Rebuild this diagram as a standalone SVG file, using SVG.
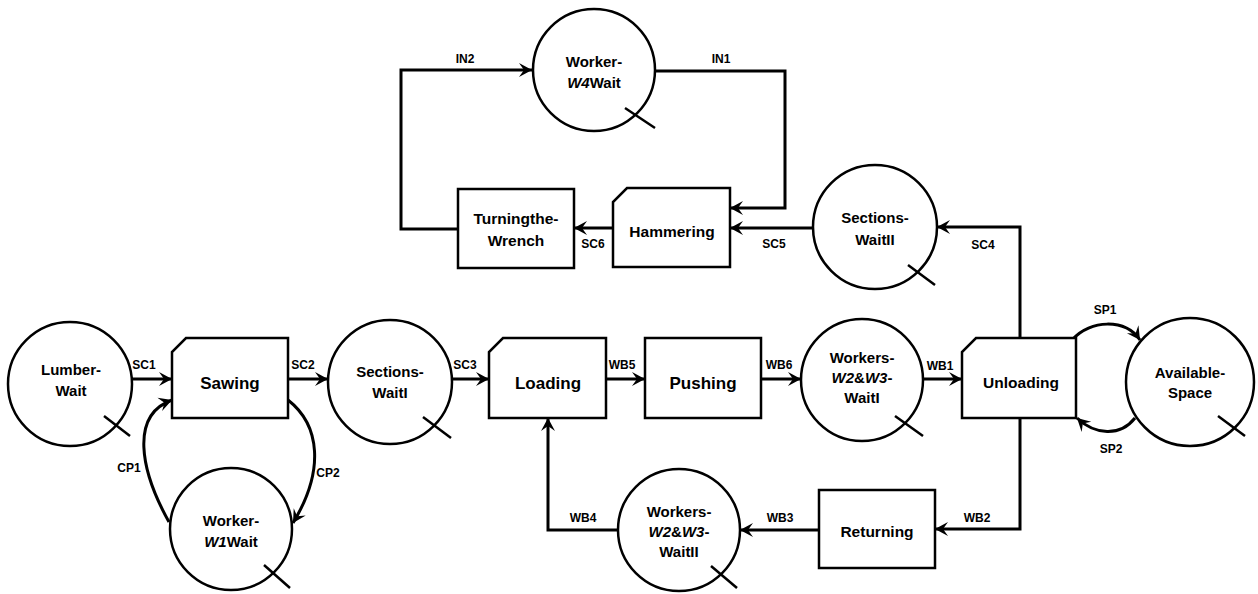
<svg xmlns="http://www.w3.org/2000/svg" width="1258" height="594" viewBox="0 0 1258 594">
<style>
.shape{fill:#fff;stroke:#000;stroke-width:2.5}
.tick{stroke:#000;stroke-width:2.5;fill:none}
.conn{fill:none;stroke:#000;stroke-width:3}
.arr{marker-end:url(#ah)}
text{font-family:"Liberation Sans",Arial,sans-serif;font-weight:bold;fill:#000;text-anchor:middle}
.nl{font-size:15px}
.bl{font-size:17px}
.bm{font-size:15.5px}
.el{font-size:12px}
.it{font-style:italic}
</style>
<defs>
<marker id="ah" markerUnits="userSpaceOnUse" markerWidth="16" markerHeight="16" refX="13" refY="8" orient="auto">
<path d="M0,1 L13,8 L0,15 L5,8 z" fill="#000"/>
</marker>
</defs>
<rect width="1258" height="594" fill="#fff"/>

<g id="connectors">
<path class="conn arr" d="M131,379 L172,379"/>
<path class="conn arr" d="M288,379 L328,379"/>
<path class="conn arr" d="M452,379 L489,379"/>
<path class="conn arr" d="M606,379 L645,379"/>
<path class="conn arr" d="M761,379 L801,379"/>
<path class="conn arr" d="M923,379 L962,379"/>
<path class="conn arr" d="M169,522 C140,470 130,415 172,400"/>
<path class="conn arr" d="M288,400 C320,425 325,470 293,523"/>
<path class="conn arr" d="M1073,339 C1090,320 1125,318 1140,340"/>
<path class="conn arr" d="M1135,418 C1120,437 1095,435 1077,418"/>
<path class="conn arr" d="M1020,338 L1020,227 L937,227"/>
<path class="conn arr" d="M813,228 L730,228"/>
<path class="conn arr" d="M613,228 L574,228"/>
<path class="conn arr" d="M458,229 L401,229 L401,70 L532,70"/>
<path class="conn arr" d="M655,71 L785,71 L785,208 L730,208"/>
<path class="conn arr" d="M1020,418 L1020,529 L935,529"/>
<path class="conn arr" d="M819,530 L740,530"/>
<path class="conn arr" d="M618,530 L548,530 L548,418"/>
<text class="el" x="144" y="369">SC1</text>
<text class="el" x="303" y="369">SC2</text>
<text class="el" x="465" y="369">SC3</text>
<text class="el" x="622" y="369">WB5</text>
<text class="el" x="779" y="369">WB6</text>
<text class="el" x="940" y="370">WB1</text>
<text class="el" x="1105" y="314">SP1</text>
<text class="el" x="1111" y="453">SP2</text>
<text class="el" x="983" y="249">SC4</text>
<text class="el" x="774" y="248">SC5</text>
<text class="el" x="593" y="248">SC6</text>
<text class="el" x="465" y="63">IN2</text>
<text class="el" x="721" y="63">IN1</text>
<text class="el" x="977" y="522">WB2</text>
<text class="el" x="780" y="522">WB3</text>
<text class="el" x="583" y="522">WB4</text>
<text class="el" x="129" y="472">CP1</text>
<text class="el" x="328" y="477">CP2</text>
</g>

<g id="lumber-wait">
<circle class="shape" cx="70" cy="384" r="62"/>
<line class="tick" x1="104" y1="416" x2="130" y2="436"/>
<text class="nl" x="71" y="375">Lumber-</text>
<text class="nl" x="71" y="396">Wait</text>
</g>

<g id="sawing">
<path class="shape" d="M186,338 L288,338 L288,418 L172,418 L172,352 z"/>
<text class="bl" x="230" y="389">Sawing</text>
</g>

<g id="worker-w1-wait">
<circle class="shape" cx="231" cy="529" r="61"/>
<line class="tick" x1="264" y1="565" x2="290" y2="588"/>
<text class="nl" x="231" y="526">Worker-</text>
<text class="nl" x="231" y="547"><tspan class="it">W1</tspan>Wait</text>
</g>

<g id="sections-wait1">
<circle class="shape" cx="390" cy="382" r="62"/>
<line class="tick" x1="423" y1="417" x2="451" y2="438"/>
<text class="nl" x="390" y="377">Sections-</text>
<text class="nl" x="390" y="398">WaitI</text>
</g>

<g id="loading">
<path class="shape" d="M503,338 L606,338 L606,418 L489,418 L489,352 z"/>
<text class="bl" x="548" y="389">Loading</text>
</g>

<g id="pushing">
<rect class="shape" x="645" y="338" width="116" height="80"/>
<text class="bl" x="703" y="389">Pushing</text>
</g>

<g id="workers-wait1">
<circle class="shape" cx="862" cy="380" r="61"/>
<line class="tick" x1="895" y1="416" x2="923" y2="436"/>
<text class="nl" x="862" y="363">Workers-</text>
<text class="nl" x="862" y="383"><tspan class="it">W2</tspan>&amp;<tspan class="it">W3</tspan>-</text>
<text class="nl" x="862" y="403">WaitI</text>
</g>

<g id="unloading">
<path class="shape" d="M976,338 L1076,338 L1076,418 L962,418 L962,352 z"/>
<text class="bm" x="1021" y="388">Unloading</text>
</g>

<g id="available-space">
<circle class="shape" cx="1190" cy="382" r="64"/>
<line class="tick" x1="1218" y1="416" x2="1245" y2="436"/>
<text class="nl" x="1190" y="378">Available-</text>
<text class="nl" x="1190" y="398">Space</text>
</g>

<g id="sections-wait2">
<circle class="shape" cx="875" cy="227" r="62"/>
<line class="tick" x1="908" y1="265" x2="935" y2="285"/>
<text class="nl" x="875" y="223">Sections-</text>
<text class="nl" x="875" y="245">WaitII</text>
</g>

<g id="hammering">
<path class="shape" d="M627,188 L730,188 L730,267 L613,267 L613,202 z"/>
<text class="bm" x="672" y="237">Hammering</text>
</g>

<g id="turning-the-wrench">
<rect class="shape" x="458" y="189" width="116" height="79"/>
<text class="bm" x="516" y="224">Turningthe-</text>
<text class="bm" x="516" y="246">Wrench</text>
</g>

<g id="worker-w4-wait">
<circle class="shape" cx="594" cy="70" r="61"/>
<line class="tick" x1="625" y1="108" x2="655" y2="128"/>
<text class="nl" x="594" y="67">Worker-</text>
<text class="nl" x="594" y="88"><tspan class="it">W4</tspan>Wait</text>
</g>

<g id="returning">
<rect class="shape" x="819" y="490" width="116" height="78"/>
<text class="bm" x="877" y="537">Returning</text>
</g>

<g id="workers-wait2">
<circle class="shape" cx="679" cy="530" r="61"/>
<line class="tick" x1="711" y1="566" x2="737" y2="588"/>
<text class="nl" x="679" y="517">Workers-</text>
<text class="nl" x="679" y="537"><tspan class="it">W2</tspan>&amp;<tspan class="it">W3</tspan>-</text>
<text class="nl" x="679" y="557">WaitII</text>
</g>
</svg>
